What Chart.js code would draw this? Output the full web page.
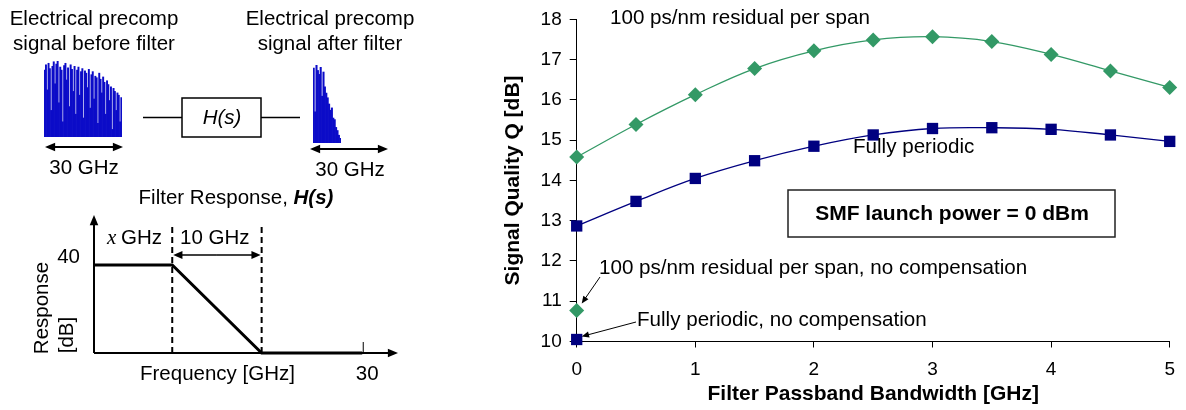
<!DOCTYPE html>
<html>
<head>
<meta charset="utf-8">
<script src="https://cdn.jsdelivr.net/npm/chart.js@4.4.1/dist/chart.umd.min.js"></script>
<style>
  html, body { margin: 0; padding: 0; background: #fff; }
  #lienzo { position: relative; width: 1186px; height: 410px; overflow: hidden; }
  canvas { position: absolute; }
</style>
</head>
<body>
<div id="lienzo">
  <canvas id="filtro" width="420" height="410" style="left:0;top:0"></canvas>
  <canvas id="principal" width="1186" height="410" style="left:0;top:0"></canvas>
  <canvas id="antes" width="78" height="76" style="left:44px;top:61px"></canvas>
  <canvas id="despues" width="28" height="78" style="left:313px;top:65px"></canvas>
</div>
<script>
// --- Datos del gráfico principal ---
const anchoBanda = [0, 0.5, 1, 1.5, 2, 2.5, 3, 3.5, 4, 4.5, 5];           // GHz
const qResidual  = [14.58, 15.39, 16.13, 16.78, 17.22, 17.49, 17.57, 17.45, 17.13, 16.72, 16.31];
const qPeriodico = [12.87, 13.48, 14.05, 14.49, 14.85, 15.13, 15.29, 15.31, 15.27, 15.13, 14.97];
const qResidualSinComp = 10.77;   // en 0 GHz
const qPeriodicoSinComp = 10.05;  // en 0 GHz

// --- Respuesta del filtro (esquema) ---
const frecuencia = [0, 8.75, 18.75, 30];   // GHz (x GHz + 10 GHz de caída)
const respuesta  = [40, 40, 0, 0];         // dB

// --- Espectros (alturas relativas 0-100, estimadas a ojo) ---
const espectroAntes = [88, 95, 62, 97, 90, 35, 93, 99, 70, 96, 100, 45, 92, 88, 20, 94, 97, 75, 91, 40,
                       95, 89, 60, 93, 30, 88, 92, 55, 86, 90, 25, 87, 84, 65, 89, 38, 82, 86, 50, 80,
                       78, 18, 84, 76, 58, 79, 72, 30, 74, 69, 48, 66, 10, 64, 60, 35, 58, 55, 20, 52];
const espectroDespues = [96, 40, 100, 93, 88, 97, 60, 91, 72, 64, 58, 50, 42, 45, 32, 30, 20, 16, 10, 6];

const FUENTE = 'Arial, "Liberation Sans", sans-serif';
Chart.defaults.font.family = FUENTE;
Chart.defaults.color = '#000';

// Flecha simple con punta rellena
function flecha(ctx, x1, y1, x2, y2, punta) {
    const ang = Math.atan2(y2 - y1, x2 - x1);
    ctx.beginPath();
    ctx.moveTo(x1, y1);
    ctx.lineTo(x2 - Math.cos(ang) * punta * 0.8, y2 - Math.sin(ang) * punta * 0.8);
    ctx.stroke();
    ctx.beginPath();
    ctx.moveTo(x2, y2);
    ctx.lineTo(x2 - punta * Math.cos(ang - 0.4), y2 - punta * Math.sin(ang - 0.4));
    ctx.lineTo(x2 - punta * Math.cos(ang + 0.4), y2 - punta * Math.sin(ang + 0.4));
    ctx.closePath();
    ctx.fill();
}
function flechaDoble(ctx, x1, y, x2, punta) {
    const m = (x1 + x2) / 2;
    flecha(ctx, m, y, x1, y, punta);
    flecha(ctx, m, y, x2, y, punta);
}
function texto(ctx, t, x, y, tam, alin, peso, estilo) {
    ctx.font = (estilo || '') + ' ' + (peso || '') + ' ' + tam + 'px ' + FUENTE;
    ctx.textAlign = alin || 'left';
    ctx.textBaseline = 'middle';
    ctx.fillText(t, x, y);
}

// --- Plugin: dibuja el esquema de la izquierda ---
const esquema = {
    id: 'esquema',
    beforeDatasetsDraw(chart) {
        const {ctx, chartArea: a, scales: {x, y}} = chart;
        ctx.save();
        ctx.strokeStyle = '#000';
        ctx.fillStyle = '#000';
        // ejes con flecha
        ctx.lineWidth = 2;
        flecha(ctx, a.left, a.bottom, a.right, a.bottom, 11);
        flecha(ctx, a.left, a.bottom, a.left, a.top, 11);
        // marca en 30
        ctx.lineWidth = 1;
        ctx.beginPath();
        ctx.moveTo(x.getPixelForValue(30) + 1, a.bottom);
        ctx.lineTo(x.getPixelForValue(30) + 1, a.bottom - 11);
        ctx.stroke();
        // líneas verticales de trazos
        ctx.lineWidth = 2;
        ctx.setLineDash([6, 4]);
        [frecuencia[1], frecuencia[2]].forEach(f => {
            const px = x.getPixelForValue(f);
            ctx.beginPath();
            ctx.moveTo(px, a.bottom);
            ctx.lineTo(px, 227);
            ctx.stroke();
        });
        ctx.setLineDash([]);
        // flecha doble de 10 GHz
        ctx.lineWidth = 1.5;
        flechaDoble(ctx, x.getPixelForValue(frecuencia[1]) + 1, 255, x.getPixelForValue(frecuencia[2]) - 1, 10);
        ctx.restore();
    },
    afterDraw(chart) {
        const {ctx, scales: {x, y}} = chart;
        ctx.save();
        ctx.fillStyle = '#000';
        ctx.strokeStyle = '#000';
        // títulos superiores
        texto(ctx, 'Electrical precomp', 94, 19, 20.5, 'center');
        texto(ctx, 'signal before filter', 94, 44, 20.5, 'center');
        texto(ctx, 'Electrical precomp', 330, 19, 20.5, 'center');
        texto(ctx, 'signal after filter', 330, 44, 20.5, 'center');
        // bloque H(s)
        ctx.lineWidth = 1.5;
        ctx.beginPath();
        ctx.moveTo(143, 117.5); ctx.lineTo(182, 117.5);
        ctx.moveTo(261, 117.5); ctx.lineTo(300, 117.5);
        ctx.stroke();
        ctx.strokeRect(182, 98, 79, 39);
        texto(ctx, 'H(s)', 222, 118, 20.5, 'center', '', 'italic');
        // anchos de banda
        ctx.lineWidth = 2;
        flechaDoble(ctx, 45, 147, 123, 11);
        flechaDoble(ctx, 310, 149, 388, 11);
        texto(ctx, '30 GHz', 84, 168, 20.5, 'center');
        texto(ctx, '30 GHz', 350, 170, 20.5, 'center');
        // título del esquema de respuesta
        const t1 = 'Filter Response, ';
        ctx.font = 'italic bold 20.5px ' + FUENTE;
        const w2 = ctx.measureText('H(s)').width;
        ctx.font = '20.5px ' + FUENTE;
        const w1 = ctx.measureText(t1).width;
        const x0 = 236 - (w1 + w2) / 2;
        texto(ctx, t1, x0, 198, 20.5, 'left');
        texto(ctx, 'H(s)', x0 + w1, 198, 20.5, 'left', 'bold', 'italic');
        // etiquetas del esquema
        texto(ctx, '40', 80, 257, 20.5, 'right');
        ctx.font = 'italic 21px "Liberation Serif", "Times New Roman", serif';
        ctx.textAlign = 'left';
        ctx.fillText('x', 107, 238);
        texto(ctx, 'GHz', 121, 238, 20.5, 'left');
        texto(ctx, '10 GHz', 180, 238, 20.5, 'left');
        texto(ctx, 'Frequency [GHz]', 140, 374, 20.5, 'left');
        texto(ctx, '30', x.getPixelForValue(30) + 5, 374, 20.5, 'center');
        ctx.save();
        ctx.translate(42, 308);
        ctx.rotate(-Math.PI / 2);
        texto(ctx, 'Response', 0, 0, 20.5, 'center');
        ctx.restore();
        ctx.save();
        ctx.translate(67, 335);
        ctx.rotate(-Math.PI / 2);
        texto(ctx, '[dB]', 0, 0, 20.5, 'center');
        ctx.restore();
        ctx.restore();
    }
};

// --- Plugin: anotaciones del gráfico principal ---
const anotaciones = {
    id: 'anotaciones',
    afterDatasetsDraw(chart) {
        const {ctx, scales: {x, y}} = chart;
        ctx.save();
        ctx.fillStyle = '#000';
        ctx.strokeStyle = '#000';
        texto(ctx, '100 ps/nm residual per span', 610, 18, 20.6, 'left');
        texto(ctx, 'Fully periodic', 853, 147, 20.6, 'left');
        texto(ctx, '100 ps/nm residual per span, no compensation', 599, 268, 20.6, 'left');
        texto(ctx, 'Fully periodic, no compensation', 637, 320, 20.6, 'left');
        // recuadro
        ctx.lineWidth = 1.5;
        ctx.strokeStyle = '#222';
        ctx.strokeRect(788, 190, 327, 47);
        texto(ctx, 'SMF launch power = 0 dBm', 952, 214, 21, 'center', 'bold');
        // flechas hacia los puntos sin compensación
        ctx.strokeStyle = '#000';
        ctx.lineWidth = 1;
        const x0 = x.getPixelForValue(0);
        flecha(ctx, 600, 277, x0 + 5, y.getPixelForValue(qResidualSinComp) - 7, 8);
        flecha(ctx, 636, 322, x0 + 5, y.getPixelForValue(qPeriodicoSinComp) - 3, 8);
        ctx.restore();
    }
};

// --- Esquema de la respuesta del filtro ---
new Chart(document.getElementById('filtro'), {
    type: 'line',
    data: {
        datasets: [{
            data: frecuencia.map((f, i) => ({x: f, y: respuesta[i]})),
            borderColor: '#000',
            borderWidth: 3,
            pointRadius: 0,
            tension: 0,
            clip: false
        }]
    },
    options: {
        responsive: false,
        animation: false,
        layout: {padding: {left: 94, right: 22, top: 215, bottom: 57}},
        plugins: {legend: {display: false}, tooltip: {enabled: false}},
        scales: {
            x: {type: 'linear', min: 0, max: 34, display: false},
            y: {min: 0, max: 62.7, display: false}
        }
    },
    plugins: [esquema]
});

// --- Espectros en barras ---
function espectro(id, valores) {
    new Chart(document.getElementById(id), {
        type: 'bar',
        data: {
            labels: valores.map((v, i) => i),
            datasets: [{
                data: valores,
                backgroundColor: '#0c0cc8',
                borderWidth: 0,
                barPercentage: 1,
                categoryPercentage: 1
            }]
        },
        options: {
            responsive: false,
            animation: false,
            layout: {padding: 0},
            plugins: {legend: {display: false}, tooltip: {enabled: false}},
            scales: {
                x: {display: false},
                y: {display: false, min: 0, max: 100}
            }
        }
    });
}
espectro('antes', espectroAntes);
espectro('despues', espectroDespues);

// --- Gráfico principal: Q vs ancho de banda del filtro ---
const VERDE = '#339966';
const AZUL = '#000080';
new Chart(document.getElementById('principal'), {
    type: 'line',
    data: {
        datasets: [
            {
                data: anchoBanda.map((b, i) => ({x: b, y: qResidual[i]})),
                borderColor: VERDE, backgroundColor: VERDE, borderWidth: 1.3,
                pointStyle: 'rectRot', pointRadius: 7.5, pointBorderWidth: 0,
                tension: 0.4, clip: false
            },
            {
                data: anchoBanda.map((b, i) => ({x: b, y: qPeriodico[i]})),
                borderColor: AZUL, backgroundColor: AZUL, borderWidth: 1.3,
                pointStyle: 'rect', pointRadius: 8, pointBorderWidth: 0,
                tension: 0.4, clip: false
            },
            {
                data: [{x: 0, y: qResidualSinComp}], showLine: false,
                backgroundColor: VERDE, borderColor: VERDE,
                pointStyle: 'rectRot', pointRadius: 7.5, pointBorderWidth: 0, clip: false
            },
            {
                data: [{x: 0, y: qPeriodicoSinComp}], showLine: false,
                backgroundColor: AZUL, borderColor: AZUL,
                pointStyle: 'rect', pointRadius: 8, pointBorderWidth: 0, clip: false
            }
        ]
    },
    options: {
        responsive: false,
        animation: false,
        layout: {padding: {left: 490, right: 8, top: 14, bottom: 0}},
        plugins: {legend: {display: false}, tooltip: {enabled: false}},
        scales: {
            x: {
                type: 'linear', min: 0, max: 5,
                ticks: {stepSize: 1, font: {size: 19}, padding: 11, color: '#000'},
                grid: {drawOnChartArea: false, color: '#000', tickLength: 6},
                border: {color: '#000', width: 1},
                title: {display: true, text: 'Filter Passband Bandwidth [GHz]', color: '#000',
                        font: {size: 21, weight: 'bold'}, padding: {top: 0, bottom: 3}},
                afterFit(s) { s.height = 68.5; }
            },
            y: {
                min: 10, max: 18,
                ticks: {stepSize: 1, font: {size: 19}, padding: 8, color: '#000'},
                grid: {drawOnChartArea: false, color: '#000', tickLength: 7},
                border: {color: '#000', width: 1},
                title: {display: true, text: 'Signal Quality Q [dB]', color: '#000',
                        font: {size: 21, weight: 'bold'}, padding: {top: 11, bottom: 0}},
                afterFit(s) { s.width = 86.7; }
            }
        }
    },
    plugins: [anotaciones]
});
</script>
</body>
</html>
